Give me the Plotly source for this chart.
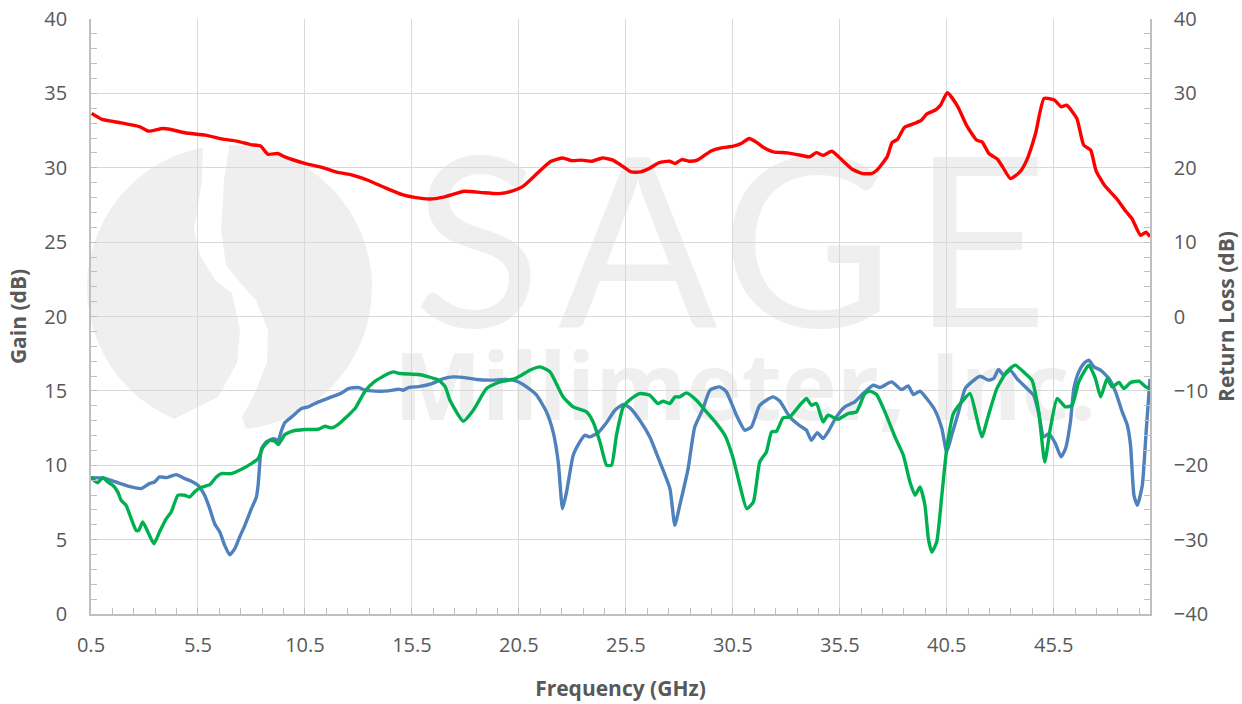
import plotly.graph_objects as go

# ---------------- data ----------------
gain_f = [0.53, 1.02, 1.82, 2.79, 3.19, 3.84, 4.24, 4.89, 5.85, 6.66, 7.31, 7.95, 8.44, 8.76, 9.24,
          9.56, 10.53, 11.34, 11.98, 12.63, 13.44, 14.24, 15.05, 15.69, 16.34, 16.98, 17.95, 18.76,
          19.56, 20.21, 20.69, 21.18, 21.98, 22.55, 22.95, 23.44, 23.92, 24.40, 24.89, 25.40, 25.75,
          26.18, 26.58, 27.06, 27.55, 27.79, 28.11, 28.44, 28.84, 29.48, 29.97, 30.53, 30.94, 31.26,
          31.58, 31.90, 32.39, 33.03, 33.68, 34.08, 34.40, 34.73, 35.13, 35.61, 36.10, 36.58, 36.98,
          37.23, 37.71, 37.95, 38.19, 38.52, 39.00, 39.32, 39.56, 39.97, 40.21, 40.53, 41.02, 41.42,
          41.90, 42.15, 42.47, 42.87, 43.11, 43.48, 43.92, 44.24, 44.65, 45.05, 45.53, 45.85, 46.10,
          46.58, 46.90, 47.23, 47.47, 47.87, 48.44, 48.84, 49.16, 49.56, 49.81, 50.0]
gain_db = [33.65, 33.25, 33.04, 32.75, 32.46, 32.64, 32.57, 32.35, 32.19, 31.92, 31.79, 31.56, 31.45,
           30.91, 30.96, 30.73, 30.28, 30.01, 29.70, 29.54, 29.16, 28.66, 28.19, 27.99, 27.90, 28.03,
           28.42, 28.33, 28.26, 28.44, 28.75, 29.38, 30.42, 30.66, 30.48, 30.51, 30.44, 30.66, 30.51,
           30.05, 29.72, 29.72, 29.94, 30.35, 30.44, 30.28, 30.55, 30.44, 30.51, 31.13, 31.34, 31.45,
           31.67, 31.97, 31.74, 31.40, 31.07, 31.00, 30.84, 30.73, 31.02, 30.84, 31.11, 30.51, 29.88,
           29.61, 29.61, 29.83, 30.73, 31.70, 31.90, 32.71, 32.98, 33.20, 33.61, 33.88, 34.21, 35.04,
           34.10, 32.87, 31.85, 31.74, 30.96, 30.57, 30.06, 29.27, 29.72, 30.51, 32.30, 34.66, 34.55,
           34.10, 34.21, 33.31, 31.52, 31.18, 29.83, 28.82, 27.92, 27.13, 26.57, 25.45, 25.67, 25.36]

s11_f = [0.50, 1.05, 1.75, 2.38, 2.84, 3.23, 3.47, 3.70, 4.02, 4.48, 4.88, 5.19, 5.50, 5.81, 6.05,
         6.28, 6.52, 6.75, 6.98, 7.22, 7.45, 7.69, 8.00, 8.23, 8.31, 8.47, 8.70, 9.02, 9.25, 9.41,
         9.56, 9.88, 10.34, 10.66, 11.13, 11.75, 12.22, 12.53, 13.00, 13.31, 13.78, 14.40, 14.88,
         15.10, 15.34, 15.81, 16.44, 16.98, 17.43, 18.05, 18.52, 19.15, 19.92, 20.39, 20.86, 21.33,
         21.79, 22.10, 22.34, 22.54, 22.73, 23.04, 23.35, 23.58, 23.82, 24.21, 24.60, 24.99, 25.38,
         25.69, 26.15, 26.62, 27.09, 27.56, 27.79, 28.02, 28.41, 28.72, 29.11, 29.43, 29.89, 30.20,
         30.67, 31.06, 31.37, 31.76, 32.38, 32.70, 33.16, 33.60, 33.94, 34.17, 34.45, 34.72, 34.95,
         35.34, 35.73, 36.20, 36.59, 37.06, 37.38, 37.92, 38.39, 38.70, 38.94, 39.25, 39.56, 39.95,
         40.27, 40.50, 40.73, 41.05, 41.36, 41.67, 42.06, 42.45, 42.69, 42.92, 43.16, 43.47, 43.78,
         44.17, 44.56, 44.80, 45.03, 45.27, 45.58, 45.84, 46.05, 46.28, 46.44, 46.67, 46.91, 47.14,
         47.38, 47.69, 48.08, 48.39, 48.70, 48.94, 49.09, 49.25, 49.41, 49.64, 49.83, 50.0]
s11_db = [-21.66, -21.71, -22.34, -22.92, -23.14, -22.47, -22.25, -21.57, -21.66, -21.26, -21.80,
          -22.16, -22.70, -24.04, -25.84, -27.86, -28.98, -30.77, -32.03, -31.22, -29.65, -28.08,
          -25.84, -24.27, -22.70, -17.76, -16.86, -16.42, -16.64, -15.29, -14.26, -13.50, -12.38,
          -12.15, -11.48, -10.81, -10.27, -9.69, -9.55, -9.91, -10.04, -10.00, -9.78, -9.91, -9.55,
          -9.42, -9.01, -8.34, -8.12, -8.25, -8.47, -8.56, -8.47, -8.70, -9.46, -10.58, -12.83,
          -15.52, -19.56, -25.84, -23.59, -18.66, -16.86, -15.97, -16.19, -15.61, -14.26, -12.60,
          -11.84, -12.29, -13.95, -16.19, -19.56, -23.14, -28.08, -25.39, -20.45, -14.85, -12.38,
          -9.91, -9.46, -10.13, -13.27, -15.29, -14.85, -11.93, -10.81, -11.39, -13.50, -14.62,
          -15.29, -16.64, -15.61, -16.42, -15.52, -13.50, -12.15, -11.48, -10.36, -9.24, -9.55,
          -8.79, -9.82, -9.33, -10.49, -10.04, -11.03, -12.60, -15.07, -18.21, -15.97, -12.83,
          -9.69, -8.79, -8.03, -8.56, -8.34, -7.13, -7.89, -7.22, -8.34, -9.46, -10.58, -13.05,
          -16.19, -15.74, -17.09, -18.88, -17.76, -14.17, -9.69, -7.44, -6.32, -5.87, -6.77, -7.22,
          -8.34, -10.13, -12.83, -14.62, -17.31, -24.04, -25.39, -22.70, -15.07, -8.40]

s22_f = [0.50, 0.81, 1.05, 1.28, 1.52, 1.75, 1.91, 2.14, 2.38, 2.61, 2.73, 2.92, 3.16, 3.44, 3.70,
         4.02, 4.25, 4.56, 4.88, 5.11, 5.34, 5.58, 6.05, 6.36, 6.59, 7.06, 7.53, 8.00, 8.31, 8.55,
         8.86, 9.09, 9.25, 9.56, 9.88, 10.50, 11.13, 11.44, 11.75, 12.06, 12.53, 12.84, 13.31,
         13.78, 14.40, 14.64, 14.95, 15.81, 16.28, 16.75, 17.06, 17.28, 17.90, 18.37, 18.99, 19.61,
         20.24, 20.62, 21.01, 21.48, 21.95, 22.57, 23.04, 23.66, 23.97, 24.29, 24.60, 24.83, 25.06,
         25.38, 25.76, 26.15, 26.62, 27.00, 27.24, 27.56, 27.79, 28.02, 28.33, 28.80, 29.27, 29.74,
         30.13, 30.52, 30.83, 31.15, 31.46, 31.76, 32.07, 32.31, 32.54, 32.85, 33.16, 33.63, 33.94,
         34.17, 34.41, 34.72, 34.95, 35.42, 35.89, 36.28, 36.67, 36.91, 37.22, 37.61, 38.08, 38.47,
         38.78, 39.02, 39.25, 39.48, 39.64, 39.80, 40.03, 40.27, 40.50, 40.81, 41.20, 41.59, 41.91,
         42.14, 42.45, 42.84, 43.30, 43.70, 44.17, 44.48, 44.80, 45.08, 45.34, 45.66, 46.05, 46.36,
         46.67, 47.14, 47.45, 47.69, 48.00, 48.23, 48.55, 48.78, 49.09, 49.48, 49.80, 50.0]
s22_db = [-21.66, -22.34, -21.66, -22.25, -22.70, -23.59, -24.71, -25.39, -27.18, -28.75, -28.75,
          -27.63, -28.98, -30.55, -28.98, -27.18, -26.29, -24.04, -24.04, -24.27, -23.59, -23.05,
          -22.61, -21.57, -21.13, -21.13, -20.54, -19.78, -19.11, -17.54, -16.64, -16.77, -17.22,
          -15.88, -15.43, -15.20, -15.16, -14.76, -14.98, -14.49, -13.27, -12.38, -10.04, -8.70,
          -7.67, -7.44, -7.67, -7.80, -8.12, -8.56, -9.46, -11.26, -14.08, -12.60, -9.69, -8.79,
          -8.43, -7.89, -7.22, -6.77, -7.44, -10.81, -12.15, -12.83, -14.17, -16.86, -20.00, -20.00,
          -15.97, -12.15, -11.03, -10.36, -10.58, -11.70, -11.39, -11.70, -10.81, -10.81, -10.27,
          -11.26, -12.83, -14.40, -15.97, -19.11, -22.70, -25.84, -24.94, -19.56, -18.21, -15.52,
          -15.43, -13.63, -13.50, -11.93, -11.03, -11.93, -11.70, -14.17, -13.27, -13.81, -13.05,
          -12.83, -10.36, -10.04, -10.49, -12.83, -16.19, -18.66, -22.25, -24.04, -22.92, -25.39,
          -29.87, -31.67, -30.33, -24.04, -17.76, -13.05, -11.48, -10.36, -13.72, -16.19, -13.27,
          -9.69, -7.44, -6.54, -7.67, -8.56, -12.83, -19.56, -15.07, -11.03, -12.15, -11.93, -8.79,
          -6.54, -8.34, -10.81, -8.34, -9.46, -8.88, -9.69, -8.88, -8.70, -9.46, -9.69]

x_range = [0.5, 50.0]
gain_range = [0, 40]
rl_range = [-40, 40]

# ---------------- figure ----------------
W, H = 1242, 704
L, R, T, B = 91, 92, 19, 90
PW, PH = W - L - R, H - T - B

def px(x):
    return (x - L) / PW

def py(y):
    return (H - B - y) / PH

FONT = "Open Sans"
TXT = "#595959"
AX = "#bfbfbf"
GRID = "#d9d9d9"
WM = "#efefef"

fig = go.Figure()
fig.add_trace(go.Scatter(x=gain_f, y=gain_db, mode="lines", name="Gain",
                         line=dict(color="#ff0000", width=3.4, shape="spline", smoothing=0.5),
                         yaxis="y"))
fig.add_trace(go.Scatter(x=s11_f, y=s11_db, mode="lines", name="S11",
                         line=dict(color="#4f81bd", width=3.4, shape="spline", smoothing=0.5),
                         yaxis="y2"))
fig.add_trace(go.Scatter(x=s22_f, y=s22_db, mode="lines", name="S22",
                         line=dict(color="#00b050", width=3.4, shape="spline", smoothing=0.5),
                         yaxis="y2"))

shapes = []
# watermark logo: circle with white S-shaped gap
shapes.append(dict(type="circle", xref="paper", yref="paper", layer="below",
                   x0=px(87), x1=px(372), y0=py(430), y1=py(145),
                   fillcolor=WM, line=dict(width=0)))
gap = [(203, 140), (202, 180), (194, 230), (200, 255), (215, 280), (232, 293), (240, 330),
       (237, 363), (218, 397), (172, 420), (160, 436),
       (248, 436), (242, 417), (253, 397), (267, 363), (268, 330), (256, 300), (242, 285),
       (226, 265), (221, 230), (224, 180), (230, 140)]
path = "M " + " L ".join("{:.4f},{:.4f}".format(px(a), py(b)) for a, b in gap) + " Z"
shapes.append(dict(type="path", xref="paper", yref="paper", layer="below", path=path,
                   fillcolor="white", line=dict(width=0)))
# watermark text
for ch, cx in zip("SAGE", [477, 638, 807, 980]):
    shapes.append(dict(type="rect", xref="paper", yref="paper", layer="below",
                       x0=px(cx - 90), x1=px(cx + 90), y0=py(330), y1=py(135),
                       line=dict(width=0), fillcolor="rgba(0,0,0,0)",
                       label=dict(text=ch, textposition="middle center",
                                  font=dict(family="Lato", size=236, color=WM))))
shapes.append(dict(type="rect", xref="paper", yref="paper", layer="below",
                   x0=px(390), x1=px(1100), y0=py(440), y1=py(340),
                   line=dict(width=0), fillcolor="rgba(0,0,0,0)",
                   label=dict(text="<b>Millimeter, Inc.</b>", textposition="middle center",
                              font=dict(family="Open Sans", size=93, color=WM))))

tickfont = dict(family=FONT, size=20, color=TXT)
titlefont = dict(family=FONT, size=21, color=TXT)

fig.update_layout(
    width=W, height=H, autosize=False,
    margin=dict(l=L, r=R, t=T, b=B, pad=0, autoexpand=False),
    paper_bgcolor="white", plot_bgcolor="white",
    showlegend=False,
    shapes=shapes,
    xaxis=dict(range=x_range, tick0=0.5, dtick=5, tickformat=".1f", automargin=False,
               showgrid=True, gridcolor=GRID, gridwidth=1.3,
               showline=True, linecolor=AX, linewidth=1.6,
               ticks="inside", ticklen=6, tickcolor=AX, tickwidth=1.3,
               minor=dict(tick0=0.5, dtick=1, ticks="inside", ticklen=6, tickcolor=AX,
                          tickwidth=1.3, showgrid=False),
               tickfont=tickfont, ticklabelstandoff=12, zeroline=False,
               title=dict(text="<b>Frequency (GHz)</b>", font=titlefont, standoff=25)),
    yaxis=dict(range=gain_range, dtick=5, automargin=False,
               showgrid=True, gridcolor=GRID, gridwidth=1.3,
               showline=True, linecolor=AX, linewidth=1.6,
               ticks="inside", ticklen=6, tickcolor=AX, tickwidth=1.3,
               minor=dict(dtick=1, ticks="inside", ticklen=6, tickcolor=AX,
                          tickwidth=1.3, showgrid=False),
               tickfont=tickfont, ticklabelstandoff=18, zeroline=False,
               title=dict(text="<b>Gain (dB)</b>", font=titlefont, standoff=12)),
    yaxis2=dict(range=rl_range, dtick=10, overlaying="y", side="right", automargin=False,
                showgrid=False, showline=True, linecolor=AX, linewidth=1.6,
                ticks="inside", ticklen=6, tickcolor=AX, tickwidth=1.3,
                minor=dict(dtick=2, ticks="inside", ticklen=6, tickcolor=AX,
                           tickwidth=1.3, showgrid=False),
                tickfont=tickfont, ticklabelstandoff=18, zeroline=False,
                title=dict(text="<b>Return Loss (dB)</b>", font=titlefont, standoff=12)),
)

fig.write_html("out.html", config={"displayModeBar": False},
               post_script="document.body.style.margin='0';document.body.style.overflow='hidden';")
